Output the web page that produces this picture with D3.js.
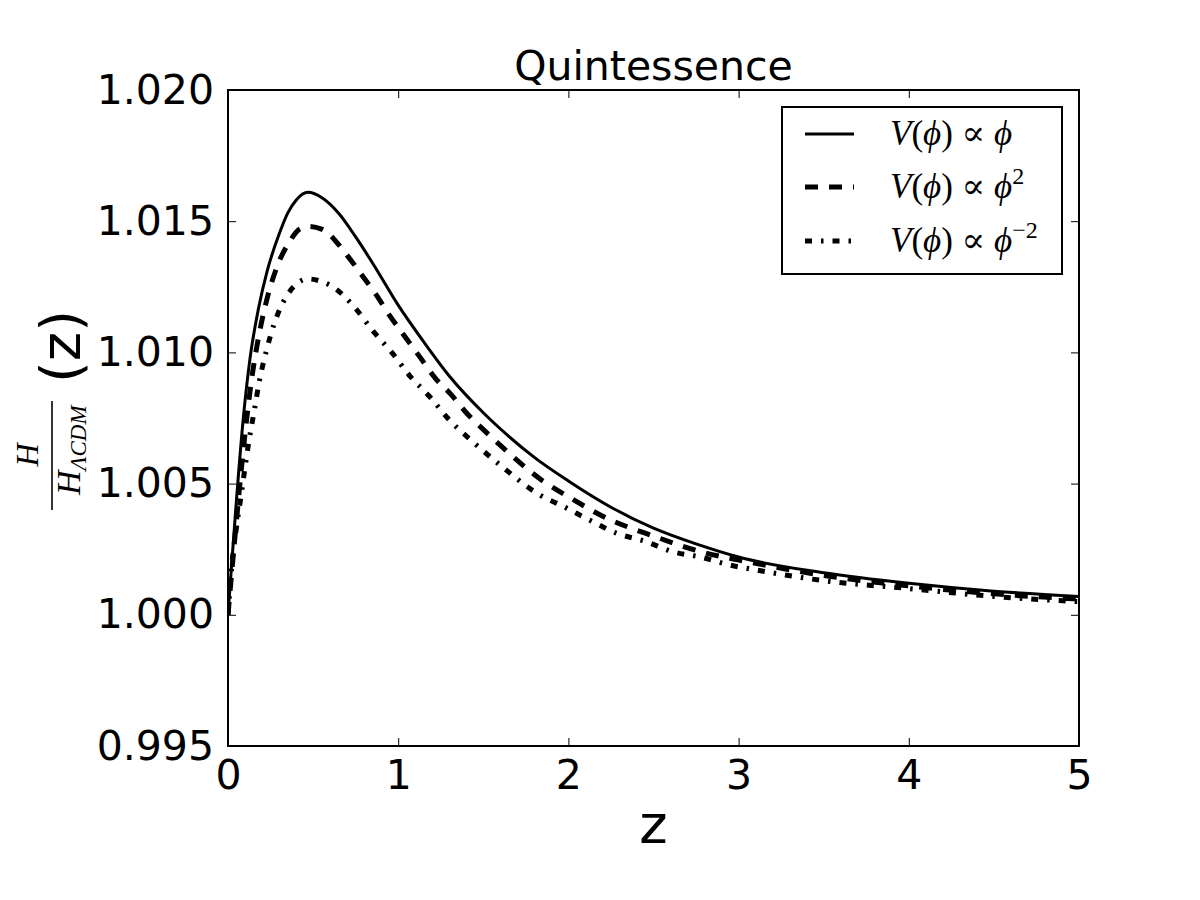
<!DOCTYPE html>
<html>
<head>
<meta charset="utf-8">
<script src="https://cdn.jsdelivr.net/npm/d3@7"></script>
<style>
  body { margin: 0; background: #fff; }
  svg { display: block; }
  .tick text { font-family: "DejaVu Sans", sans-serif; }
</style>
</head>
<body>
<div id="chart"></div>
<script>
// values
var zLin = [0, 0.02, 0.05, 0.09, 0.13, 0.18, 0.23, 0.3, 0.35, 0.4, 0.47, 0.55, 0.65, 0.75, 0.85, 1.0, 1.15, 1.3, 1.5, 1.65, 1.8, 2.0, 2.25, 2.5, 2.75, 3.0, 3.5, 4.0, 4.5, 5.0];
var hLin = [1.0000, 1.0018, 1.0044, 1.0075, 1.0098, 1.0117, 1.0131, 1.0145, 1.0153, 1.0158, 1.0161, 1.0159, 1.0153, 1.0144, 1.0134, 1.0118, 1.0104, 1.0091, 1.0077, 1.0068, 1.0060, 1.0051, 1.0041, 1.0033, 1.0027, 1.0022, 1.0016, 1.0012, 1.0009, 1.0007];

var zQuad = [0, 0.03, 0.05, 0.07, 0.1, 0.135, 0.18, 0.22, 0.29, 0.36, 0.42, 0.47, 0.55, 0.7, 0.78, 0.87, 0.95, 1.04, 1.13, 1.22, 1.31, 1.4, 1.51, 1.61, 1.85, 2.0, 2.22, 2.5, 2.78, 3.07, 3.5, 4.0, 4.5, 5.0];
var hQuad = [1.0000, 1.0022, 1.0036, 1.0050, 1.0069, 1.0088, 1.0106, 1.0118, 1.0133, 1.0142, 1.0147, 1.0148, 1.0147, 1.0137, 1.0130, 1.0122, 1.0114, 1.0106, 1.0098, 1.0090, 1.0084, 1.0077, 1.0070, 1.0064, 1.0051, 1.0045, 1.0037, 1.0030, 1.0024, 1.0020, 1.0015, 1.0011, 1.0008, 1.0006];

var zInv = [0, 0.024, 0.047, 0.076, 0.102, 0.125, 0.155, 0.184, 0.223, 0.272, 0.34, 0.47, 0.55, 0.615, 0.746, 0.854, 0.962, 1.069, 1.187, 1.304, 1.42, 1.6, 1.823, 1.98, 2.127, 2.287, 2.45, 2.616, 2.777, 2.945, 3.11, 3.5, 4.0, 4.5, 5.0];
var hInv = [1.0000, 1.0020, 1.0032, 1.0045, 1.0057, 1.0067, 1.0078, 1.0089, 1.0100, 1.0111, 1.0121, 1.0128, 1.0127, 1.0125, 1.0117, 1.0108, 1.0100, 1.0091, 1.0083, 1.0074, 1.0067, 1.0057, 1.0046, 1.0041, 1.0036, 1.0031, 1.0028, 1.0024, 1.0022, 1.0019, 1.0017, 1.0013, 1.0010, 1.0007, 1.0005];

var xTicks = [0, 1, 2, 3, 4, 5];
var yTicks = [0.995, 1.000, 1.005, 1.010, 1.015, 1.020];

var series = [
    { z: zLin, h: hLin, width: 3, dash: null, sup: "" },
    { z: zQuad, h: hQuad, width: 5, dash: "13,11", sup: "2" },
    { z: zInv, h: hInv, width: 5, dash: "7,9,2.5,9", sup: "\u22122" }
];

var width = 1200, height = 900;
// plot box (note: "top" is taken by window.top, so use other names)
var pLeft = 228, pRight = 1079, pTop = 90, pBottom = 746;

var svg = d3.select("#chart").append("svg")
    .attr("width", width)
    .attr("height", height);

var x = d3.scaleLinear().domain([0, 5]).range([pLeft, pRight]);
var y = d3.scaleLinear().domain([0.995, 1.020]).range([pBottom, pTop]);

svg.append("clipPath").attr("id", "plotclip")
    .append("rect")
    .attr("x", pLeft).attr("y", pTop)
    .attr("width", pRight - pLeft).attr("height", pBottom - pTop);

var line = d3.line()
    .x(d => x(d[0]))
    .y(d => y(d[1]))
    .curve(d3.curveMonotoneX);

var plot = svg.append("g").attr("clip-path", "url(#plotclip)");
series.forEach(s => {
    plot.append("path")
        .datum(d3.zip(s.z, s.h))
        .attr("fill", "none")
        .attr("stroke", "#000")
        .attr("stroke-width", s.width)
        .attr("stroke-dasharray", s.dash)
        .attr("d", line);
});

// axes, ticks pointing inwards on all four sides
function styleAxis(g) {
    g.select(".domain").remove();
    g.selectAll(".tick line").attr("stroke", "#000").attr("stroke-width", 1);
    g.selectAll(".tick text").attr("font-size", 41).attr("fill", "#000");
}

svg.append("g")
    .attr("transform", `translate(0,${pBottom})`)
    .call(d3.axisBottom(x).tickValues(xTicks).tickFormat(d3.format("d")).tickSizeInner(-8).tickPadding(14))
    .call(styleAxis);

svg.append("g")
    .attr("transform", `translate(0,${pTop})`)
    .call(d3.axisTop(x).tickValues(xTicks).tickFormat("").tickSizeInner(-8))
    .call(styleAxis);

svg.append("g")
    .attr("transform", `translate(${pLeft},0)`)
    .call(d3.axisLeft(y).tickValues(yTicks).tickFormat(d3.format(".3f")).tickSizeInner(-8).tickPadding(14))
    .call(styleAxis);

svg.append("g")
    .attr("transform", `translate(${pRight},0)`)
    .call(d3.axisRight(y).tickValues(yTicks).tickFormat("").tickSizeInner(-8))
    .call(styleAxis);

svg.append("rect")
    .attr("x", pLeft).attr("y", pTop)
    .attr("width", pRight - pLeft).attr("height", pBottom - pTop)
    .attr("fill", "none")
    .attr("stroke", "#000")
    .attr("stroke-width", 2);

// title and axis labels
svg.append("text")
    .attr("x", (pLeft + pRight) / 2).attr("y", 80)
    .attr("text-anchor", "middle")
    .attr("font-family", "DejaVu Sans, sans-serif")
    .attr("font-size", 41)
    .text("Quintessence");

svg.append("text")
    .attr("x", (pLeft + pRight) / 2).attr("y", 843)
    .attr("text-anchor", "middle")
    .attr("font-family", "DejaVu Sans, sans-serif")
    .attr("font-size", 54)
    .text("z");

var serif = "Liberation Serif, DejaVu Serif, serif";
var ylab = svg.append("g").attr("transform", "translate(52,455) rotate(-90)");
ylab.append("line")
    .attr("x1", -55).attr("x2", 54)
    .attr("y1", 0).attr("y2", 0)
    .attr("stroke", "#000").attr("stroke-width", 1.6);
ylab.append("text")
    .attr("x", 0).attr("y", -14)
    .attr("text-anchor", "middle")
    .attr("font-family", serif).attr("font-style", "italic")
    .attr("font-size", 32)
    .text("H");
var den = ylab.append("text")
    .attr("x", -40).attr("y", 28)
    .attr("font-family", serif).attr("font-style", "italic")
    .attr("font-size", 34);
den.append("tspan").text("H");
den.append("tspan").attr("dy", 6).attr("font-size", 23).text("\u039bCDM");
ylab.append("text")
    .attr("x", 72).attr("y", 28)
    .attr("font-family", "DejaVu Sans, sans-serif")
    .attr("font-size", 56)
    .text("(z)");

// legend
var legend = svg.append("g");
legend.append("rect")
    .attr("x", 782).attr("y", 107)
    .attr("width", 280).attr("height", 167)
    .attr("fill", "#fff")
    .attr("stroke", "#000")
    .attr("stroke-width", 2);

var rowY = [134, 187, 241];
series.forEach((s, i) => {
    legend.append("line")
        .attr("x1", 805).attr("x2", 854)
        .attr("y1", rowY[i]).attr("y2", rowY[i])
        .attr("stroke", "#000")
        .attr("stroke-width", s.width)
        .attr("stroke-dasharray", s.dash);
    var t = legend.append("text")
        .attr("x", 890).attr("y", rowY[i] + 11)
        .attr("font-family", serif)
        .attr("font-size", 35);
    t.append("tspan").attr("font-style", "italic").text("V");
    t.append("tspan").text("(");
    t.append("tspan").attr("font-style", "italic").text("\u03d5");
    t.append("tspan").text(") \u221d ");
    t.append("tspan").attr("font-style", "italic").text("\u03d5");
    if (s.sup) {
        t.append("tspan").attr("dy", -14).attr("font-size", 24).text(s.sup);
    }
});
</script>
</body>
</html>
